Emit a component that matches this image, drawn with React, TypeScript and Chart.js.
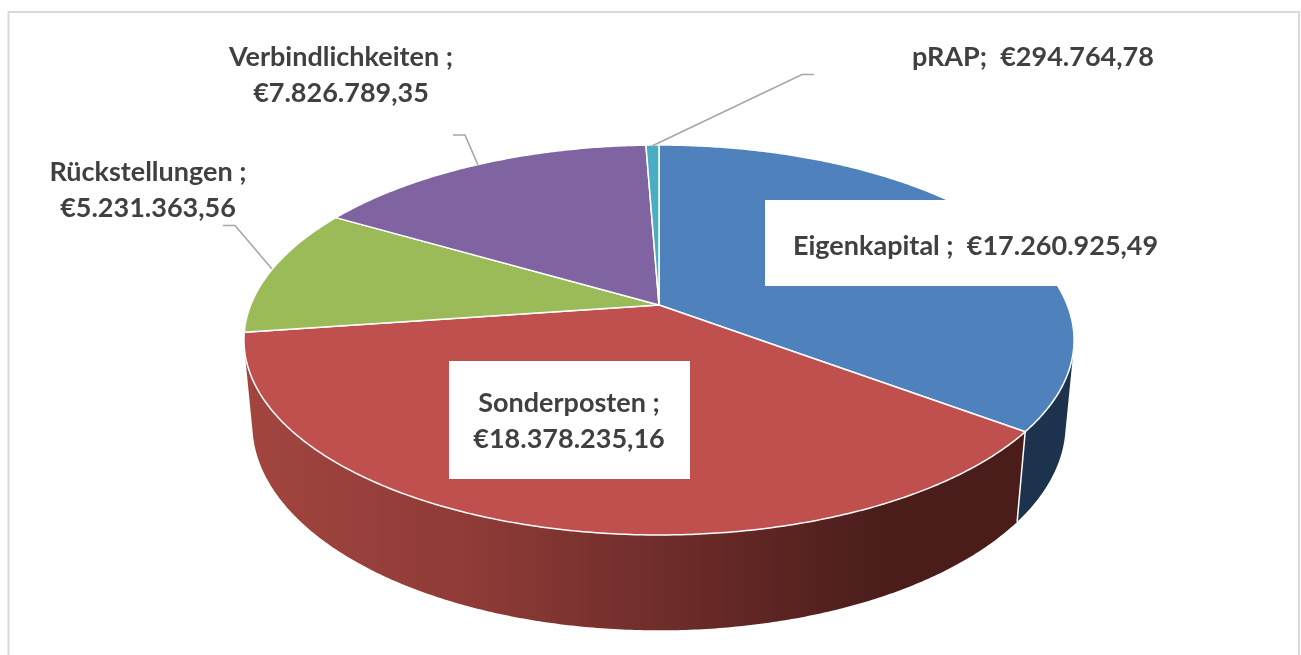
import React, { useEffect, useRef } from "react";
import { Chart, registerables } from "chart.js";

Chart.register(...registerables);

const categories = ["Eigenkapital", "Sonderposten", "Rückstellungen", "Verbindlichkeiten", "pRAP"];
const amounts = [17260925.49, 18378235.16, 5231363.56, 7826789.35, 294764.78];
const amountLabels = ["€17.260.925,49", "€18.378.235,16", "€5.231.363,56", "€7.826.789,35", "€294.764,78"];
const sliceColors = ["#4f81bd", "#c0504d", "#9bbb59", "#8064a2", "#4bacc6"];
const wallDark = ["#1d334d", "#4a1d1b", "#3e4b24", "#332841", "#1e4550"];

// Perspective of the tilted pie: maps a slice angle from the library to the page
const CX = 659, CY = 305, BX = 408.3, AY = 188.7, PERSP = 0.1795, DEPTH_W = 0.0201, DEPTH_Y = 84.8;
const FRONT_V = 0.224;
const project = (angle: number, r: number, low: boolean) => {
  const u = Math.cos(angle) * r;
  const v = Math.sin(angle) * r;
  const d = 1 - PERSP * v + (low ? DEPTH_W : 0);
  return { x: CX + (BX * u) / d, y: CY + (AY * v + (low ? DEPTH_Y : 0)) / d };
};

const FONT = "700 27px Lato";
const TEXT = "#404040";
const LEADER = "#a6a6a6";

const pie3d = {
  id: "pie3d",
  beforeDatasetDraw(chart: any, args: any) {
    const ctx: CanvasRenderingContext2D = chart.ctx;
    const arcs = args.meta.data;
    const step = Math.PI / 360;
    ctx.save();
    // side walls: one polygon per slice, over the part of its arc that faces the viewer
    const frontStart = Math.asin(FRONT_V);
    const frontEnd = Math.PI - frontStart;
    arcs.forEach((arc: any, i: number) => {
      const s = Math.max(arc.startAngle, frontStart);
      const e = Math.min(arc.endAngle, frontEnd);
      if (e <= s) return;
      let fill: any = wallDark[i];
      if (i === 1) {
        const g = ctx.createLinearGradient(245, 0, 885, 0);
        g.addColorStop(0, "#a2453f");
        g.addColorStop(0.35, "#8f3b37");
        g.addColorStop(1, "#4a1d1b");
        fill = g;
      }
      const angles: number[] = [];
      for (let a = s; a < e; a += step) angles.push(a);
      angles.push(e);
      ctx.beginPath();
      angles.forEach((a, k) => {
        const p = project(a, 1, false);
        if (k) ctx.lineTo(p.x, p.y);
        else ctx.moveTo(p.x, p.y);
      });
      angles
        .slice()
        .reverse()
        .forEach((a) => {
          const p = project(a, 1, true);
          ctx.lineTo(p.x, p.y);
        });
      ctx.closePath();
      ctx.fillStyle = fill;
      ctx.fill();
    });
    // seams on the wall
    arcs.forEach((arc: any) => {
      if (Math.sin(arc.startAngle) >= FRONT_V) {
        const t = project(arc.startAngle, 1, false), l = project(arc.startAngle, 1, true);
        ctx.strokeStyle = "#ffffff";
        ctx.lineWidth = 1.5;
        ctx.beginPath();
        ctx.moveTo(t.x, t.y);
        ctx.lineTo(l.x, l.y);
        ctx.stroke();
      }
    });
    // top faces
    arcs.forEach((arc: any) => {
      const s = arc.startAngle, e = arc.endAngle;
      const c = project(0, 0, false);
      ctx.beginPath();
      ctx.moveTo(c.x, c.y);
      for (let a = s; a < e; a += step) {
        const p = project(a, 1, false);
        ctx.lineTo(p.x, p.y);
      }
      const last = project(e, 1, false);
      ctx.lineTo(last.x, last.y);
      ctx.closePath();
      ctx.fillStyle = arc.options.backgroundColor;
      ctx.fill();
      ctx.strokeStyle = arc.options.borderColor;
      ctx.lineWidth = arc.options.borderWidth;
      ctx.lineJoin = "round";
      ctx.stroke();
    });
    ctx.restore();
    return false;
  },
  afterDatasetsDraw(chart: any) {
    const ctx: CanvasRenderingContext2D = chart.ctx;
    ctx.save();
    // chart frame (open at the bottom, cut by the page)
    ctx.strokeStyle = "#d9d9d9";
    ctx.lineWidth = 2;
    ctx.beginPath();
    ctx.moveTo(8.5, 655);
    ctx.lineTo(8.5, 12);
    ctx.lineTo(1299, 12);
    ctx.lineTo(1299, 655);
    ctx.stroke();
    // white label boxes
    ctx.fillStyle = "#ffffff";
    ctx.fillRect(765, 200, 410, 86);
    ctx.fillRect(449, 361, 241, 118);
    // leader lines
    ctx.strokeStyle = LEADER;
    ctx.lineWidth = 1.6;
    const leaders = [
      [[223, 225.5], [235, 225.5], [272, 269]],
      [[453, 135], [465, 135], [478, 165]],
      [[814, 74.5], [802, 74.5], [652, 146]],
    ];
    leaders.forEach((pts) => {
      ctx.beginPath();
      pts.forEach(([x, y], i) => (i ? ctx.lineTo(x, y) : ctx.moveTo(x, y)));
      ctx.stroke();
    });
    // labels
    ctx.font = FONT;
    ctx.fillStyle = TEXT;
    ctx.textBaseline = "alphabetic";
    ctx.textAlign = "center";
    const two = (i: number, x: number, y: number) => {
      ctx.fillText(categories[i] + " ;", x, y);
      ctx.fillText(amountLabels[i], x, y + 36);
    };
    two(1, 569, 412);
    two(2, 148, 181);
    two(3, 341, 66);
    ctx.textAlign = "left";
    ctx.fillText(categories[0] + " ;  " + amountLabels[0], 793, 255);
    ctx.fillText(categories[4] + ";  " + amountLabels[4], 912, 66);
    ctx.restore();
  },
};

export default function App() {
  const ref = useRef<HTMLCanvasElement>(null);
  useEffect(() => {
    const chart = new Chart(ref.current!, {
      type: "pie",
      data: {
        labels: categories,
        datasets: [{ data: amounts, backgroundColor: sliceColors, borderColor: "#ffffff", borderWidth: 1.5 }],
      },
      options: {
        animation: false,
        responsive: false,
        plugins: { legend: { display: false }, tooltip: { enabled: false } },
      },
      plugins: [pie3d],
    } as any);
    return () => chart.destroy();
  }, []);
  return (
    <canvas
      ref={ref}
      width={1301}
      height={655}
      style={{ position: "fixed", left: 0, top: 0, width: 1301, height: 655, background: "#fff" }}
    />
  );
}
